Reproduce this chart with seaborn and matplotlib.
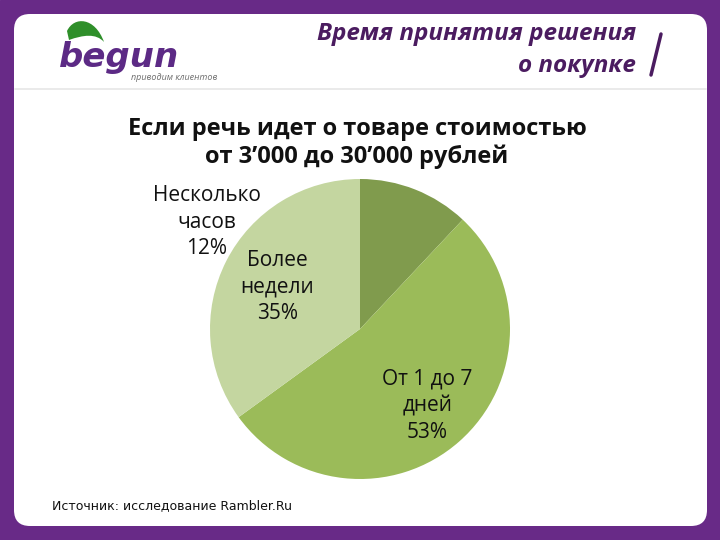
import matplotlib
matplotlib.use('Agg')
import matplotlib.pyplot as plt
import seaborn as sns
import numpy as np
from matplotlib.patches import FancyBboxPatch, PathPatch, Rectangle
from matplotlib.path import Path

# ---- data ----
categories = ['Несколько\nчасов', 'От 1 до 7\nдней', 'Более\nнедели']
values = [12, 53, 35]
colors = ['#809b4d', '#9bbb59', '#c4d6a0']
title = 'Если речь идет о товаре стоимостью\nот 3’000 до 30’000 рублей'
header = 'Время принятия решения\nо покупке'
source = 'Источник: исследование Rambler.Ru'

sns.set_theme(style='white')
plt.rcParams['font.family'] = ['Open Sans', 'DejaVu Sans']

fig = plt.figure(figsize=(7.2, 5.4), dpi=100)

# background / frame in pixel coordinates
bg = fig.add_axes([0, 0, 1, 1])
bg.set_xlim(0, 720)
bg.set_ylim(540, 0)
bg.axis('off')
bg.add_patch(Rectangle((0, 0), 720, 540, color='#682a87', zorder=0))
bg.add_patch(FancyBboxPatch((14, 14), 693, 512,
                            boxstyle='round,pad=0,rounding_size=16',
                            fc='white', ec='none', zorder=1))
bg.plot([15, 706], [89, 89], color='#e6e6e6', lw=1.2, zorder=2)

# logo
bg.text(59, 67, 'begun', family='DejaVu Sans', fontsize=24.5, weight='bold',
        style='italic', color='#5c2a85', va='baseline', ha='left', zorder=3)
bg.text(131, 78, 'приводим клиентов', fontsize=6.5, style='italic',
        color='#6e6e6e', va='center', ha='left', zorder=3)
leaf = Path([(67, 31), (74, 16), (95, 17), (104, 42),
             (96, 33), (83, 35), (69, 40), (67, 31)],
            [Path.MOVETO, Path.CURVE4, Path.CURVE4, Path.CURVE4,
             Path.CURVE4, Path.CURVE4, Path.CURVE4, Path.CLOSEPOLY])
bg.add_patch(PathPatch(leaf, fc='#2f8f2a', ec='none', zorder=3))

# header
bg.text(636, 50, header, ha='right', va='center', fontsize=17.5, weight='bold',
        style='italic', color='#4b1c60', linespacing=1.5, zorder=3)
bg.plot([661, 651], [34, 75], color='#4b1c60', lw=2.5, solid_capstyle='round', zorder=3)

# title
bg.text(357, 143, title, ha='center', va='center', fontsize=17, weight='bold',
        color='#111111', linespacing=1.2, zorder=3)

# source
bg.text(52, 506, source, ha='left', va='center', fontsize=9,
        family='DejaVu Sans', color='#111111', zorder=3)

# pie
ax = fig.add_axes([210 / 720, (540 - 479) / 540, 300 / 720, 300 / 540])
wedges, _ = ax.pie(values, colors=colors, startangle=90, counterclock=False,
                   radius=1, wedgeprops=dict(linewidth=0))
ax.set_xlim(-1, 1)
ax.set_ylim(-1, 1)
ax.set_aspect('equal')
ax.axis('off')

dists = [None, 0.68, 0.62]
for w, cat, val, d in zip(wedges, categories, values, dists):
    label = f'{cat}\n{val}%'
    if d is None:
        x, y = -1.02, 0.713
    else:
        th = np.deg2rad((w.theta1 + w.theta2) / 2)
        x, y = d * np.cos(th), d * np.sin(th)
    ax.text(x, y, label, ha='center', va='center', fontsize=15,
            color='#111111', linespacing=1.35, clip_on=False)

fig.savefig('out.png', dpi=100)
